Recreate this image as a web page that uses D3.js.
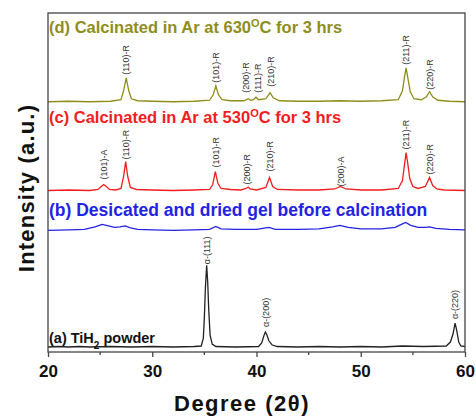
<!DOCTYPE html>
<html>
<head>
<meta charset="utf-8">
<script src="https://cdn.jsdelivr.net/npm/d3@7"></script>
<style>
  body { margin: 0; background: #fff; }
  text { font-family: "Liberation Sans", Arial, sans-serif; }
</style>
</head>
<body>
<div id="chart"></div>
<script>
// x ticks (2θ)
const xTicks = [20, 30, 40, 50, 60];
const xMinorTicks = [25, 35, 45, 55];

// stacked XRD patterns [2θ, intensity (a.u., offset included)]
const seriesA = [[20,5],[21,5.5],[22,5],[23,5.5],[24,5],[26,5.5],[28,5],[30,5.5],[32,5],[34,5.5],[34.7,6],[34.9,14],[35.0,35],[35.1,65],[35.22,87],[35.32,70],[35.42,42],[35.55,17],[35.75,8],[36.1,5.5],[38,5],[40.2,5.5],[40.5,9],[40.7,16],[40.85,20],[41.0,17],[41.2,11],[41.5,7],[42,5.5],[44,5],[46,5.5],[48,5],[50,5.5],[52,5],[54,6],[56,5.5],[58.2,6],[58.6,10],[58.85,18],[59.05,29],[59.2,22],[59.4,10],[59.6,6],[60,5.5]];
const seriesB = [[20,122],[22,122.5],[23.5,123],[24.5,125.5],[25.2,128],[25.8,126.5],[26.4,125],[26.9,125.5],[27.4,126.5],[27.9,124.5],[28.6,123],[30,122.5],[32,122],[34,122.5],[35.5,123],[36.1,126],[36.6,123.5],[38,123],[40,123],[41.2,125],[41.8,123],[44,123],[46,123.5],[47.3,125.5],[48,127],[48.8,125],[50,123.5],[52,123.5],[53.3,125],[54,128.5],[54.3,130],[54.8,127],[55.5,125],[56.2,125],[56.6,125.5],[57.2,124],[58.5,123],[60,122.5]];
const seriesC = [[20,162],[22,162.5],[24,162],[24.8,163],[25.1,166],[25.35,168],[25.6,166],[25.9,163],[26.5,162.5],[27.0,164],[27.25,176],[27.45,191],[27.65,176],[27.9,165],[28.5,163],[30,162.5],[32,162],[34,162.5],[35.5,163],[35.8,168],[36.05,181],[36.3,169],[36.6,164],[37.5,163],[38.5,162.5],[39.0,164],[39.2,165.5],[39.4,163.5],[40,162.5],[40.9,165],[41.25,175],[41.55,166],[42,163],[44,162.5],[46,162.5],[47.5,163.5],[48.05,166],[48.6,163.5],[50,162.5],[52,162.5],[53.6,164],[54.0,172],[54.2,188],[54.35,200],[54.5,190],[54.7,174],[55.0,166],[55.5,164],[56.2,166],[56.6,175],[56.9,167],[57.3,163.5],[58,162.5],[60,162]];
const seriesD = [[20,251],[22,251.5],[24,251],[26,251.5],[27.0,253],[27.25,262],[27.5,275],[27.75,262],[28,254],[28.6,252],[30,251.5],[32,251],[34,251.5],[35.5,252.5],[35.85,258],[36.1,267],[36.35,258],[36.7,253],[37.5,252],[38.8,252],[39.2,254],[39.45,252.5],[39.7,253],[39.95,255.5],[40.2,253],[40.9,254],[41.3,260],[41.6,255],[42.2,252],[44,251.5],[46,251.5],[48,252],[50,251.5],[52,252],[53.6,253],[54.0,262],[54.2,276],[54.35,285],[54.5,276],[54.75,261],[55.1,254],[55.8,253],[56.3,256],[56.6,261],[56.9,256],[57.4,252.5],[58.5,251.5],[60,251]];

// peak labels [text, 2θ, intensity where label starts]
const peaksA = [["α-(111)",35.22,88],["α-(200)",40.85,25],["α-(220)",59.05,33]];
const peaksC = [["(101)-A",25.35,173],["(110)-R",27.45,193],["(101)-R",36.1,185],["(200)-R",39.1,168],["(210)-R",41.25,181],["(200)-A",48.1,166],["(211)-R",54.35,203],["(220)-R",56.6,178]];
const peaksD = [["(110)-R",27.5,278],["(101)-R",36.1,270],["(200)-R",39.0,260],["(111)-R",40.1,260],["(210)-R",41.4,266],["(211)-R",54.35,288],["(220)-R",56.6,263]];

const width = 476, height = 418;
const margin = { top: 13, right: 11, bottom: 66, left: 48 };

const x = d3.scaleLinear().domain([20, 60]).range([margin.left, width - margin.right]);
const y = d3.scaleLinear().domain([0, 340]).range([height - margin.bottom, margin.top]);

const svg = d3.select('#chart').append('svg')
    .attr('width', width)
    .attr('height', height);

const line = d3.line().x(d => x(d[0])).y(d => y(d[1]));

const series = [
    { data: seriesA, color: '#222222', peaks: peaksA },
    { data: seriesB, color: '#2323e6', peaks: [] },
    { data: seriesC, color: '#f21d1d', peaks: peaksC },
    { data: seriesD, color: '#8e8e1c', peaks: peaksD }
];

series.forEach(s => {
    svg.append('path')
        .datum(s.data)
        .attr('fill', 'none')
        .attr('stroke', s.color)
        .attr('stroke-width', 1.3)
        .attr('d', line);

    svg.append('g').selectAll('text')
        .data(s.peaks)
        .join('text')
        .attr('transform', d => `translate(${x(d[1])},${y(d[2])}) rotate(-90)`)
        .attr('dy', '0.35em')
        .attr('font-size', '9px')
        .attr('fill', '#333')
        .text(d => d[0]);
});

// frame
svg.append('rect')
    .attr('x', margin.left)
    .attr('y', margin.top)
    .attr('width', width - margin.left - margin.right)
    .attr('height', height - margin.top - margin.bottom)
    .attr('fill', 'none')
    .attr('stroke', '#444')
    .attr('stroke-width', 1.3);

// bottom axis
const xAxis = svg.append('g')
    .attr('transform', `translate(0,${height - margin.bottom})`)
    .call(d3.axisBottom(x).tickValues(xTicks).tickSize(5).tickPadding(8).tickFormat(d3.format('d')));
xAxis.select('.domain').remove();
xAxis.selectAll('line').attr('stroke', '#444').attr('stroke-width', 1.3);
xAxis.selectAll('text')
    .attr('font-size', '17px')
    .attr('font-weight', 'bold')
    .attr('font-family', '"Liberation Sans", Arial, sans-serif')
    .attr('fill', '#111');

svg.append('g').selectAll('line')
    .data(xMinorTicks)
    .join('line')
    .attr('x1', d => x(d)).attr('x2', d => x(d))
    .attr('y1', height - margin.bottom).attr('y2', height - margin.bottom + 3)
    .attr('stroke', '#444').attr('stroke-width', 1.3);

// axis titles
svg.append('text')
    .attr('x', 242).attr('y', 411)
    .attr('text-anchor', 'middle')
    .attr('font-size', '22px')
    .attr('letter-spacing', '1.5px')
    .attr('font-weight', 'bold')
    .attr('fill', '#111')
    .text('Degree (2θ)');

svg.append('text')
    .attr('transform', 'translate(34,188) rotate(-90)')
    .attr('text-anchor', 'middle')
    .attr('font-size', '22px')
    .attr('letter-spacing', '1.2px')
    .attr('font-weight', 'bold')
    .attr('fill', '#111')
    .text('Intensity (a.u.)');

// series captions
function caption(yPos, color, size, parts) {
    const t = svg.append('text')
        .attr('x', 49).attr('y', yPos)
        .attr('font-size', size + 'px')
        .attr('font-weight', 'bold')
        .attr('fill', color);
    parts.forEach(p => {
        const ts = t.append('tspan').text(p.text);
        if (p.shift) ts.attr('baseline-shift', p.shift).attr('font-size', Math.round(size * 0.68) + 'px');
    });
}

caption(33, '#8e8e1c', 16.5, [{ text: '(d) Calcinated in Ar at 630' }, { text: 'O', shift: 'super' }, { text: 'C for 3 hrs' }]);
caption(123, '#f21d1d', 16.5, [{ text: '(c) Calcinated in Ar at 530' }, { text: 'O', shift: 'super' }, { text: 'C for 3 hrs' }]);
caption(216, '#2323e6', 17.5, [{ text: '(b) Desicated and dried gel before calcination' }]);
caption(343, '#111', 14.5, [{ text: '(a) TiH' }, { text: '2', shift: 'sub' }, { text: ' powder' }]);
</script>
</body>
</html>
